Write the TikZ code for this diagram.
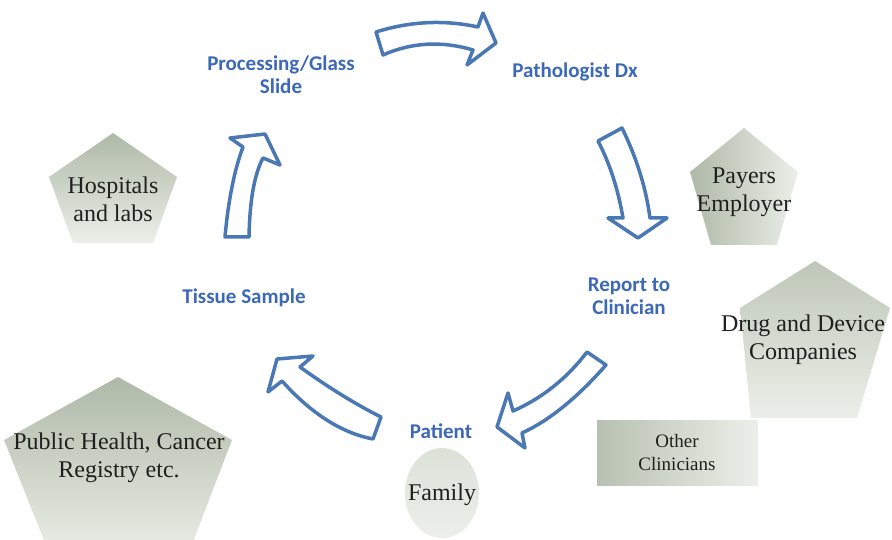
\documentclass[tikz,border=0pt]{standalone}
\usepackage{fontspec}
\setmainfont{Liberation Serif}
\newfontfamily\stagefont{Carlito}
\definecolor{stageblue}{RGB}{60,104,184}
\definecolor{arrowblue}{RGB}{74,120,180}
\definecolor{sagedark}{RGB}{174,185,167}
\definecolor{sagelight}{RGB}{236,239,233}
\tikzset{
  stage/.style={text=stageblue, font=\stagefont\bfseries\fontsize{21}{23}\selectfont, align=center, inner sep=0pt},
  party/.style={text=black!88, font=\fontsize{24}{28}\selectfont, align=center, inner sep=0pt},
  flow/.style={draw=arrowblue, fill=white, line width=3.5pt, line join=round},
  sage/.style={top color=sagedark, bottom color=sagelight}
}

\begin{document}
\begin{tikzpicture}[x=1pt,y=-1pt]
  % pixel grid, y running down
  \useasboundingbox (0,0) rectangle (892,540);
  \clip (0,0) rectangle (892,540);

  % stakeholders around the cycle
  \shade[sage] (113,133) -- (177,177) -- (153,243) -- (73,243) -- (49,177) -- cycle;
  \shade[left color=sagedark, right color=sagelight]
     (744,128) -- (798,172) -- (777,245) -- (711,245) -- (690,172) -- cycle;
  \shade[top color=sagedark!75!sagelight, bottom color=sagelight]
     (815,261) -- (890,308) -- (857,418) -- (751,418) -- (740,308) -- cycle;
  \shade[sage] (118,377) -- (232,440) -- (186,560) -- (52,560) -- (4,440) -- cycle;
  \shade[left color=sagedark!85!sagelight, right color=sagelight] (597,420) rectangle (758,485);
  \shade[top color=sagelight!75!sagedark, bottom color=sagelight] (442,493) ellipse (37 and 45);

  \node[party] (hosp)   at (113,199) {Hospitals\\and labs};
  \node[party] (payers) at (744,192) {Payers\\Employer};
  \node[party] (drug)   at (803,340) {Drug and Device\\Companies};
  \node[party] (public) at (119,458) {Public Health, Cancer\\Registry etc.};
  \node[party, font=\fontsize{19}{23}\selectfont] (others) at (677,452) {Other\\Clinicians};
  \node[party] (family) at (442,495) {Family};

  % block arrows of the cycle
  \draw[flow] (376,32) .. controls (410,21.3) and (444,19.6) .. (478,27)
     -- (483,13) -- (496,43) -- (467,65) -- (473,50)
     .. controls (441.7,40.7) and (411.7,42.3) .. (383,55) -- cycle;
  \draw[flow] (598,141) -- (622,128)
     .. controls (636.7,158) and (646,188) .. (650,218)
     -- (667,218) -- (638,238) -- (608,218) -- (623,218)
     .. controls (618,189) and (609.7,163.3) .. (598,141) -- cycle;
  \draw[flow] (225,237) -- (249,237)
     .. controls (249.7,200.7) and (254.3,174.3) .. (263,158)
     -- (280,165) -- (265,134) -- (230,138) -- (243,147)
     .. controls (234.3,170.3) and (228.3,200.3) .. (225,237) -- cycle;
  \draw[flow] (381,417) .. controls (355.7,404.3) and (328.7,387.7) .. (300,367)
     -- (313,356) -- (277,359) -- (268,392) -- (282,381)
     .. controls (311.3,413.7) and (341.7,433) .. (373,439) -- cycle;
  \draw[flow] (587,352) -- (606,365)
     .. controls (577.1,397.9) and (549.1,420.6) .. (522,433)
     -- (525,448) -- (497,427) -- (508,393) -- (513,411)
     .. controls (542.1,398.2) and (566.8,378.5) .. (587,352) -- cycle;

  % steps of the cycle
  \node[stage] (proc)    at (281,75)  {Processing/Glass\\Slide};
  \node[stage] (patho)   at (575,72)  {Pathologist Dx};
  \node[stage] (report)  at (629,296) {Report to\\Clinician};
  \node[stage] (tissue)  at (244,298) {Tissue Sample};
  \node[stage] (patient) at (441,431) {Patient};

\end{tikzpicture}
\end{document}
